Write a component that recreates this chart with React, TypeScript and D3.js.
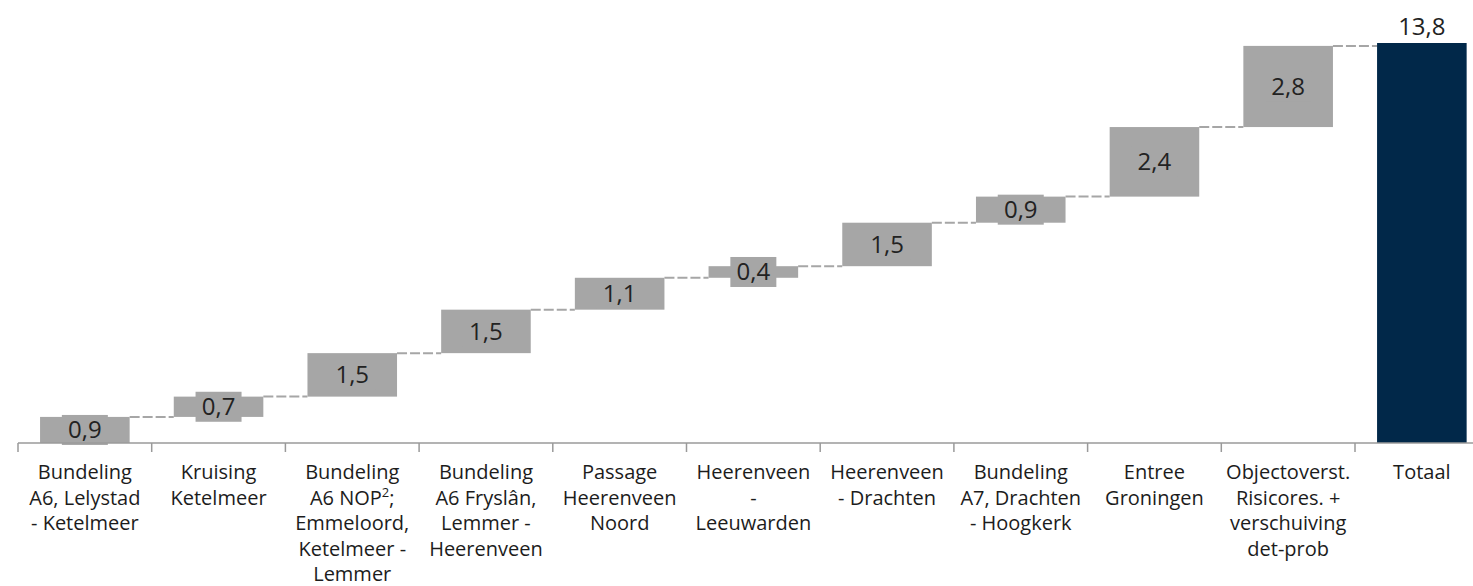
import React from 'react';
import * as d3 from 'd3';

// stappen in de waterval (mld euro), laatste kolom is het totaal
const categoryLines: string[][] = [
  ['Bundeling', 'A6, Lelystad', '- Ketelmeer'],
  ['Kruising', 'Ketelmeer'],
  ['Bundeling', 'A6 NOP²;', 'Emmeloord,', 'Ketelmeer -', 'Lemmer'],
  ['Bundeling', 'A6 Fryslân,', 'Lemmer -', 'Heerenveen'],
  ['Passage', 'Heerenveen', 'Noord'],
  ['Heerenveen', '-', 'Leeuwarden'],
  ['Heerenveen', '- Drachten'],
  ['Bundeling', 'A7, Drachten', '- Hoogkerk'],
  ['Entree', 'Groningen'],
  ['Objectoverst.', 'Risicores. +', 'verschuiving', 'det-prob'],
  ['Totaal'],
];
const stepValues = [0.9, 0.7, 1.5, 1.5, 1.1, 0.4, 1.5, 0.9, 2.4, 2.8];
const totalValue = 13.8;

const W = 1473;
const H = 586;
const axisY = 443;
const GREY = '#a6a6a6';
const NAVY = '#012849';
const FONT = '"Open Sans", sans-serif';

const fmt = (v: number) => v.toFixed(1).replace('.', ',');

export default function App() {
  const keys = categoryLines.map((_, i) => String(i));

  const x = d3.scaleBand<string>()
    .domain(keys)
    .range([18, 18 + 11 * 133.7])
    .paddingInner(0.33)
    .paddingOuter(0.165);

  const y = d3.scaleLinear()
    .domain([0, totalValue])
    .range([axisY, 43]);

  const ends = Array.from(d3.cumsum(stepValues));
  const steps = stepValues.map((v, i) => ({
    key: keys[i],
    value: v,
    start: i === 0 ? 0 : ends[i - 1],
    end: ends[i],
  }));
  const totalKey = keys[keys.length - 1];
  const bw = x.bandwidth();
  const step = x.step();

  // posities van de streepjes op de as (grenzen tussen de kolommen)
  const tickXs = keys.map(k => (x(k) as number) - (step - bw) / 2);

  const renderLabel = (text: string, cx: number, cy: number, key: string) => {
    const w = text.length * 12 + 10;
    return (
      <g key={key}>
        <rect x={cx - w / 2} y={cy - 15} width={w} height={30} fill={GREY} />
        <text x={cx} y={cy} dy="0.35em" textAnchor="middle"
          fontSize={24} fill="#222" fontFamily={FONT}>{text}</text>
      </g>
    );
  };

  return (
    <div>
      <style>{'body{margin:0}'}</style>
      <svg width={W} height={H} style={{ display: 'block' }}>
        {/* verbindingslijnen */}
        {steps.map((s, i) => {
          const x0 = (x(s.key) as number) + bw;
          const nextKey = i < steps.length - 1 ? steps[i + 1].key : totalKey;
          const x1 = x(nextKey) as number;
          return (
            <line key={'c' + i} x1={x0} x2={x1} y1={y(s.end)} y2={y(s.end)}
              stroke={GREY} strokeWidth={2} strokeDasharray="10,3" />
          );
        })}

        {/* staven */}
        {steps.map(s => (
          <rect key={'b' + s.key} x={x(s.key)} y={y(s.end)} width={bw}
            height={y(s.start) - y(s.end)} fill={GREY} />
        ))}
        <rect x={x(totalKey)} y={y(totalValue)} width={bw}
          height={y(0) - y(totalValue)} fill={NAVY} />

        {/* waardelabels */}
        {steps.map(s => renderLabel(fmt(s.value),
          (x(s.key) as number) + bw / 2, (y(s.start) + y(s.end)) / 2, 'l' + s.key))}
        <text x={(x(totalKey) as number) + bw / 2} y={y(totalValue) - 16} dy="0.35em"
          textAnchor="middle" fontSize={24} fill="#222" fontFamily={FONT}>
          {fmt(totalValue)}
        </text>

        {/* as */}
        <line x1={18} x2={W} y1={axisY} y2={axisY} stroke="#9a9a9a" strokeWidth={1.5} />
        {tickXs.map((tx, i) => (
          <line key={'t' + i} x1={tx} x2={tx} y1={axisY} y2={axisY + 9}
            stroke="#9a9a9a" strokeWidth={1.5} />
        ))}

        {/* categorielabels */}
        {categoryLines.map((lines, i) => {
          const cx = (x(keys[i]) as number) + bw / 2;
          return (
            <text key={'cat' + i} textAnchor="middle" fontSize={20}
              fontFamily={FONT} fill="#1c1c1c">
              {lines.map((ln, j) => {
                const ly = 479 + j * 25.5;
                if (ln.includes('²')) {
                  const [a, b] = ln.split('²');
                  return (
                    <tspan key={j} x={cx} y={ly}>
                      {a}
                      <tspan fontSize={13} dy={-8}>2</tspan>
                      <tspan dy={8}>{b}</tspan>
                    </tspan>
                  );
                }
                return <tspan key={j} x={cx} y={ly}>{ln}</tspan>;
              })}
            </text>
          );
        })}
      </svg>
    </div>
  );
}
